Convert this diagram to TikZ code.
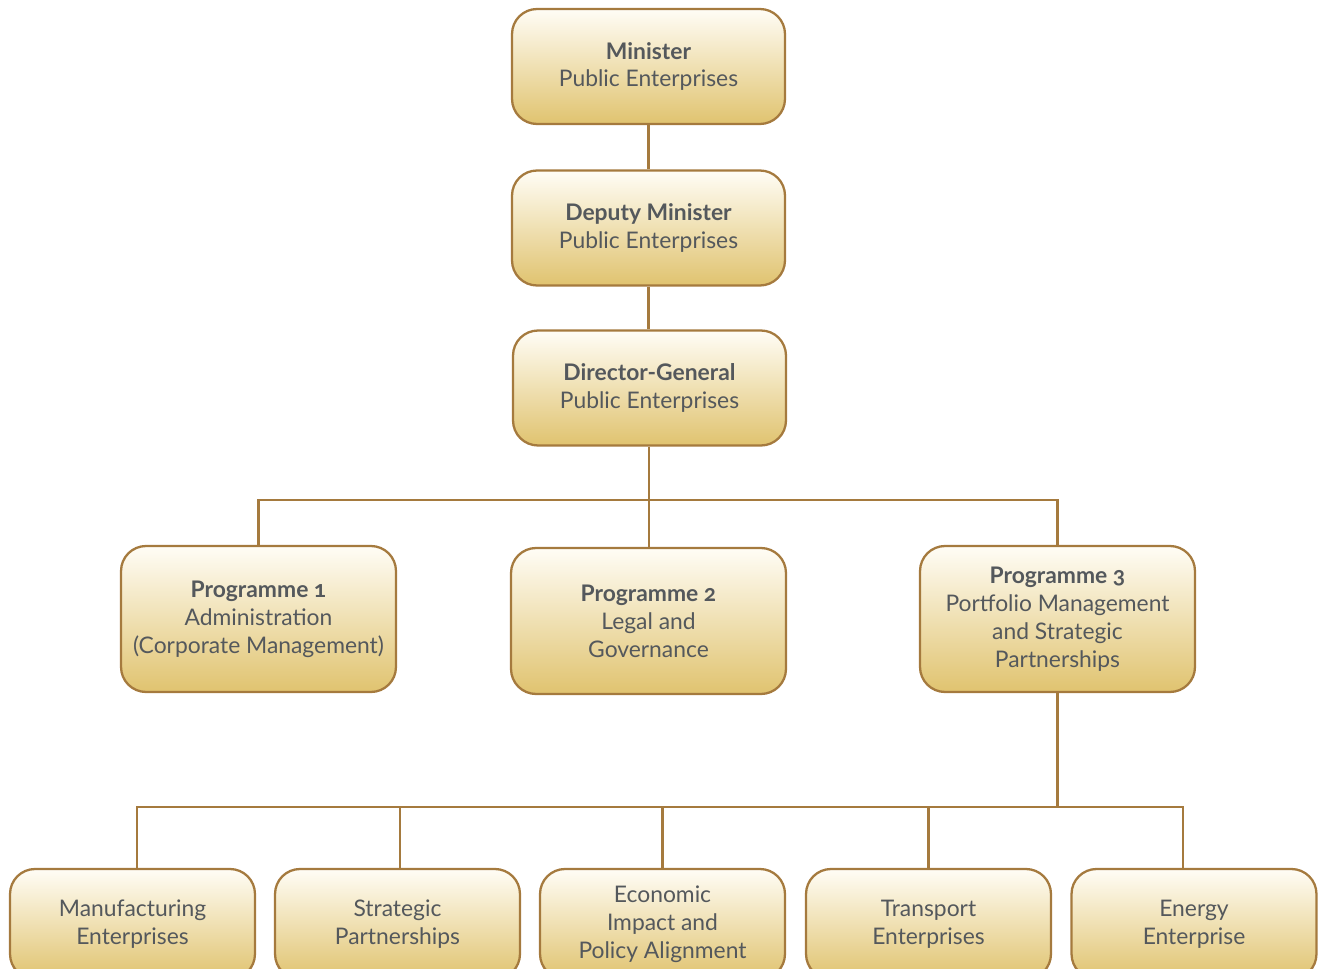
\documentclass[tikz,border=0pt]{standalone}
\usepackage{fontspec}
\setmainfont{Lato}[Numbers=OldStyle]
\usetikzlibrary{positioning}

\definecolor{goldline}{HTML}{A57A3E}
\definecolor{goldfill}{HTML}{E0C36F}
\definecolor{creamtop}{HTML}{FFFDF6}
\definecolor{inktext}{HTML}{54585C}

\tikzset{
  unit/.style={draw=goldline, line width=1.3pt, rounded corners=0.5cm,
    top color=creamtop, bottom color=goldfill, text=inktext,
    align=center, inner sep=0pt, font=\fontsize{13}{15.9}\selectfont},
  topunit/.style={unit, minimum width=5.46cm, minimum height=2.3cm},
  progunit/.style={unit, minimum width=5.5cm, minimum height=2.92cm},
  subunit/.style={unit, minimum width=4.9cm, minimum height=2.2cm},
  link/.style={draw=goldline, line width=1.3pt}
}

\begin{document}
\begin{tikzpicture}[x=0.02cm,y=-0.02cm]
      \useasboundingbox (0,0) rectangle (1319,969);

      % top of the tree
      \node[topunit] (min) at (648.5,66.5) {\textbf{Minister}\\Public Enterprises};
      \node[topunit] (dep) at (648.5,228) {\textbf{Deputy Minister}\\Public Enterprises};
      \node[topunit] (dg) at (649.5,388) {\textbf{Director-General}\\Public Enterprises};

      % programmes
      \node[progunit] (p1) at (258.5,619) {\textbf{Programme 1}\\Administration\\(Corporate Management)};
      \node[progunit] (p2) at (648.5,621) {\textbf{Programme 2}\\Legal and\\Governance};
      \node[progunit] (p3) at (1057.5,619) {\textbf{Programme 3}\\Portfolio Management\\and Strategic\\Partnerships};

      % sub-units of programme 3
      \node[subunit] (b1) at (132.5,924) {Manufacturing\\Enterprises};
      \node[subunit] (b2) at (397.5,924) {Strategic\\Partnerships};
      \node[subunit] (b3) at (662.5,924) {Economic\\Impact and\\Policy Alignment};
      \node[subunit] (b4) at (928.5,924) {Transport\\Enterprises};
      \node[subunit] (b5) at (1194,924) {Energy\\Enterprise};

      \coordinate (bus1) at (649,500);
      \coordinate (bus2) at (1058,807);

      \draw[link] (min) -- (dep);
      \draw[link] (dep.south) -- (dep.south |- dg.north);
      \draw[link] (dg.south -| bus1) -- (bus1 |- p2.north);
      \draw[link] (p1.north) |- (bus1) -| (p3.north);

      \draw[link] (p3.south) -- (p3.south |- bus2);
      \draw[link] ([xshift=0.09cm]b1.north) |- (bus2) -| ([xshift=-0.22cm]b5.north);
      \draw[link] ([xshift=0.05cm]b2.north) -- ([xshift=0.05cm]b2.north |- bus2);
      \draw[link] (b3.north) -- (b3.north |- bus2);
      \draw[link] (b4.north) -- (b4.north |- bus2);
    \end{tikzpicture}
\end{document}
